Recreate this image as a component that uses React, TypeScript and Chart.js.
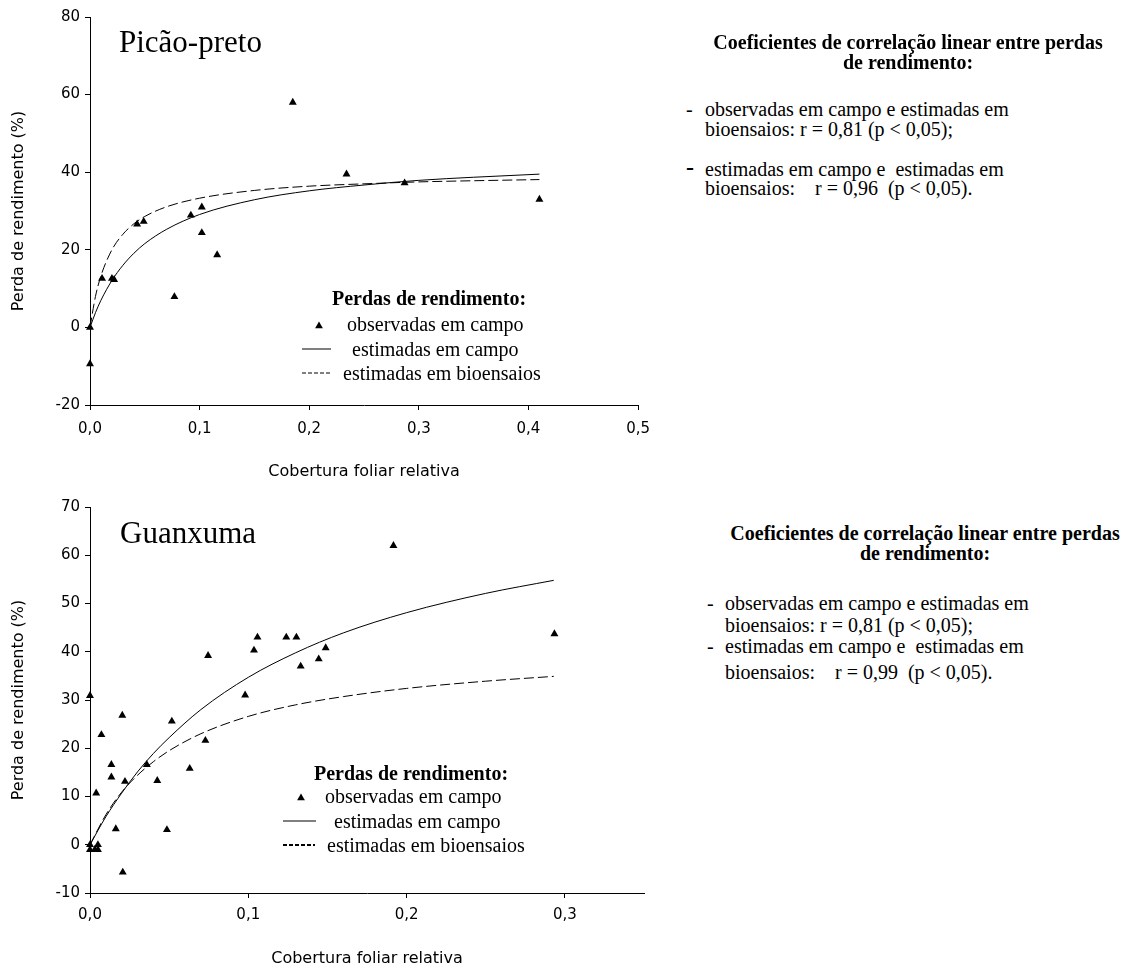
import React, { useEffect, useRef } from 'react';
import { Chart, registerables } from 'chart.js';

Chart.register(...registerables);

// ---------- Picão-preto ----------
const piObsX = [0, 0, 0.011, 0.02, 0.022, 0.043, 0.049, 0.077, 0.092, 0.102, 0.102, 0.116, 0.185, 0.234, 0.287, 0.41];
const piObsY = [-9.4, 0, 12.6, 12.6, 12.3, 26.6, 27.3, 7.9, 28.9, 31.0, 24.4, 18.7, 58.0, 39.5, 37.2, 33.0];
const piCurveX = [0, 0.005, 0.01, 0.02, 0.03, 0.04, 0.05, 0.07, 0.1, 0.15, 0.2, 0.25, 0.3, 0.35, 0.41];
const piCampoY = [0, 3.8, 7.0, 12.1, 16.0, 19.1, 21.6, 25.3, 29.1, 32.9, 35.2, 36.7, 37.9, 38.7, 39.5];
const piBioY = [0, 8.0, 13.3, 20.0, 24.0, 26.7, 28.6, 31.1, 33.3, 35.3, 36.4, 37.0, 37.5, 37.8, 38.1];
const piXTicks = [0, 0.5, 0.1];
const piYTicks = [-20, 80, 20];

// ---------- Guanxuma ----------
const guObsX = [0, 0, 0.003, 0.005, 0.005, 0, 0.0039, 0.0072, 0.0135, 0.0135, 0.0163, 0.0204, 0.0207, 0.0221, 0.0359, 0.0425, 0.0486, 0.0517, 0.063, 0.0729, 0.0746, 0.098, 0.1036, 0.1058, 0.124, 0.1304, 0.1331, 0.1445, 0.1489, 0.1917, 0.2934];
const guObsY = [0, -1, -1, 0, -1, 30.9, 10.7, 22.8, 16.6, 14.0, 3.3, 26.8, -5.7, 13.1, 16.6, 13.3, 3.1, 25.6, 15.8, 21.6, 39.2, 31.0, 40.3, 43.0, 43.0, 43.0, 37.0, 38.5, 40.8, 62.0, 43.7];
const guCurveX = [0, 0.01, 0.02, 0.03, 0.04, 0.05, 0.07, 0.1, 0.13, 0.16, 0.2, 0.25, 0.293];
const guCampoY = [0, 5.8, 10.7, 15.1, 18.9, 22.2, 28.0, 34.7, 39.8, 43.9, 48.1, 52.1, 54.8];
const guBioY = [0, 6.2, 10.9, 14.4, 17.2, 19.5, 23.0, 26.6, 29.0, 30.7, 32.4, 33.9, 34.9];
const guXTicks = [0, 0.35, 0.1];
const guYTicks = [-10, 70, 10];

const seriesLabels = ['observadas em campo', 'estimadas em campo', 'estimadas em bioensaios'];
const legendHeading = 'Perdas de rendimento:';
const xTitle = 'Cobertura foliar relativa';
const yTitle = 'Perda de rendimento (%)';

const pts = (xs: number[], ys: number[]) => xs.map((x, i) => ({ x, y: ys[i] }));

const SERIF = '"Liberation Serif", "Times New Roman", serif';
const SANS = '"DejaVu Sans", sans-serif';

const overlayPlugin = {
  id: 'overlay',
  afterDraw(chart: any, _args: any, o: any) {
    const ctx = chart.ctx as CanvasRenderingContext2D;
    ctx.save();
    ctx.fillStyle = '#000';
    ctx.strokeStyle = '#000';
    ctx.textAlign = 'left';
    ctx.textBaseline = 'alphabetic';
    ctx.font = `${o.titleSize}px ${SERIF}`;
    ctx.fillText(o.title, o.titleX, o.titleY);

    ctx.textBaseline = 'middle';
    ctx.font = `bold ${o.fontSize}px ${SERIF}`;
    ctx.fillText(legendHeading, o.headX, o.headY);
    ctx.font = `${o.fontSize}px ${SERIF}`;
    const ds = chart.data.datasets;
    o.items.forEach((it: any, i: number) => {
      if (i === 0) {
        const r = 4.5;
        ctx.beginPath();
        ctx.moveTo(it.mx, it.y - r);
        ctx.lineTo(it.mx + r * 0.866, it.y + r * 0.5);
        ctx.lineTo(it.mx - r * 0.866, it.y + r * 0.5);
        ctx.closePath();
        ctx.fill();
      } else {
        ctx.beginPath();
        ctx.lineWidth = it.lw || 1;
        ctx.setLineDash(it.dash || []);
        ctx.moveTo(it.x0, it.y - 2);
        ctx.lineTo(it.x1, it.y - 2);
        ctx.stroke();
        ctx.setLineDash([]);
      }
      ctx.fillText(ds[i].label, it.tx, it.y);
    });
    ctx.restore();
  },
};

function makeConfig(
  obsX: number[], obsY: number[], curveX: number[], campoY: number[], bioY: number[],
  xT: number[], yT: number[], xh: number, tickPad: number, xTitlePad: number, overlay: any,
): any {
  return {
    type: 'scatter',
    data: {
      datasets: [
        {
          label: seriesLabels[0], data: pts(obsX, obsY), pointStyle: 'triangle', pointRadius: 4.6,
          backgroundColor: '#000', borderColor: '#000', borderWidth: 0, showLine: false, clip: false,
        },
        {
          label: seriesLabels[1], data: pts(curveX, campoY), showLine: true, borderColor: '#000',
          borderWidth: 1, pointRadius: 0, cubicInterpolationMode: 'monotone', fill: false,
        },
        {
          label: seriesLabels[2], data: pts(curveX, bioY), showLine: true, borderColor: '#000',
          borderWidth: 1, borderDash: [10, 4], pointRadius: 0, cubicInterpolationMode: 'monotone', fill: false,
        },
      ],
    },
    options: {
      responsive: false,
      animation: false,
      events: [],
      layout: { padding: { top: 17, right: 16, left: 0, bottom: 0 } },
      plugins: { legend: { display: false }, tooltip: { enabled: false }, overlay },
      scales: {
        x: {
          type: 'linear', min: xT[0], max: xT[1],
          afterFit: (s: any) => { s.height = xh; },
          grid: { drawOnChartArea: false, drawTicks: true, tickLength: 5, color: '#000' },
          border: { display: true, color: '#000', width: 1 },
          ticks: {
            stepSize: xT[2], includeBounds: false, padding: tickPad, color: '#000',
            font: { family: SANS, size: 15 },
            callback: (v: number) => v.toFixed(1).replace('.', ','),
          },
          title: { display: true, text: xTitle, color: '#000', font: { family: SANS, size: 16 }, padding: { top: 0, bottom: xTitlePad } },
        },
        y: {
          type: 'linear', min: yT[0], max: yT[1],
          afterFit: (s: any) => { s.width = 90; },
          grid: { drawOnChartArea: false, drawTicks: true, tickLength: 5, color: '#000' },
          border: { display: true, color: '#000', width: 1 },
          ticks: { stepSize: yT[2], padding: 5, color: '#000', font: { family: SANS, size: 15 } },
          title: { display: true, text: yTitle, color: '#000', font: { family: SANS, size: 16 }, padding: { top: 9, bottom: 0 } },
        },
      },
    },
    plugins: [overlayPlugin],
  };
}

const txt: React.CSSProperties = {
  position: 'absolute', fontFamily: SERIF, fontSize: 20, lineHeight: '24px', whiteSpace: 'pre', color: '#000',
};

function L(props: { x: number; y: number; bold?: boolean; w?: number; children: React.ReactNode; size?: number }) {
  const style: React.CSSProperties = { ...txt, left: props.x, top: props.y - 12 };
  if (props.bold) style.fontWeight = 'bold';
  if (props.size) style.fontSize = props.size;
  if (props.w) { style.width = props.w; style.textAlign = 'center'; }
  return <div style={style}>{props.children}</div>;
}

export default function App() {
  const topRef = useRef<HTMLCanvasElement>(null);
  const botRef = useRef<HTMLCanvasElement>(null);

  useEffect(() => {
    const c1 = new Chart(topRef.current as HTMLCanvasElement, makeConfig(
      piObsX, piObsY, piCurveX, piCampoY, piBioY, piXTicks, piYTicks, 80, 10, 4,
      {
        title: 'Picão-preto', titleSize: 31, titleX: 119, titleY: 52,
        fontSize: 20, headX: 332, headY: 300,
        items: [
          { mx: 319, tx: 347, y: 326 },
          { x0: 302, x1: 331, tx: 352, y: 351 },
          { x0: 302, x1: 331, tx: 343, y: 375, dash: [4, 2] },
        ],
      },
    ));
    const o = 490;
    const c2 = new Chart(botRef.current as HTMLCanvasElement, makeConfig(
      guObsX, guObsY, guCurveX, guCampoY, guBioY, guXTicks, guYTicks, 75, 8, 0,
      {
        title: 'Guanxuma', titleSize: 31, titleX: 120, titleY: 543 - o,
        fontSize: 20, headX: 314, headY: 775 - o,
        items: [
          { mx: 301, tx: 325, y: 798 - o },
          { x0: 283, x1: 316, tx: 334, y: 823 - o },
          { x0: 283, x1: 315, tx: 327, y: 847 - o, dash: [4, 2], lw: 2 },
        ],
      },
    ));
    return () => { c1.destroy(); c2.destroy(); };
  }, []);

  return (
    <div style={{ position: 'absolute', left: 0, top: 0, width: 1135, height: 968, background: '#fff', overflow: 'hidden' }}>
      <canvas ref={topRef} width={660} height={485} style={{ position: 'absolute', left: 0, top: 0, width: 660, height: 485 }} />
      <canvas ref={botRef} width={660} height={478} style={{ position: 'absolute', left: 0, top: 490, width: 660, height: 478 }} />

      <L x={658} y={42} w={500} bold>Coeficientes de correlação linear entre perdas</L>
      <L x={658} y={62} w={500} bold>de rendimento:</L>
      <L x={686} y={109}>-</L>
      <L x={705} y={109}>observadas em campo e estimadas em</L>
      <L x={705} y={129}>bioensaios: r = 0,81 (p &lt; 0,05);</L>
      <L x={686} y={167} bold size={24}>-</L>
      <L x={705} y={169}>estimadas em campo e  estimadas em</L>
      <L x={705} y={188}>bioensaios:    r = 0,96  (p &lt; 0,05).</L>

      <L x={675} y={533} w={500} bold>Coeficientes de correlação linear entre perdas</L>
      <L x={675} y={553} w={500} bold>de rendimento:</L>
      <L x={707} y={603}>-</L>
      <L x={725} y={603}>observadas em campo e estimadas em</L>
      <L x={725} y={625}>bioensaios: r = 0,81 (p &lt; 0,05);</L>
      <L x={707} y={646}>-</L>
      <L x={725} y={646}>estimadas em campo e  estimadas em</L>
      <L x={725} y={672}>bioensaios:    r = 0,99  (p &lt; 0,05).</L>
    </div>
  );
}
